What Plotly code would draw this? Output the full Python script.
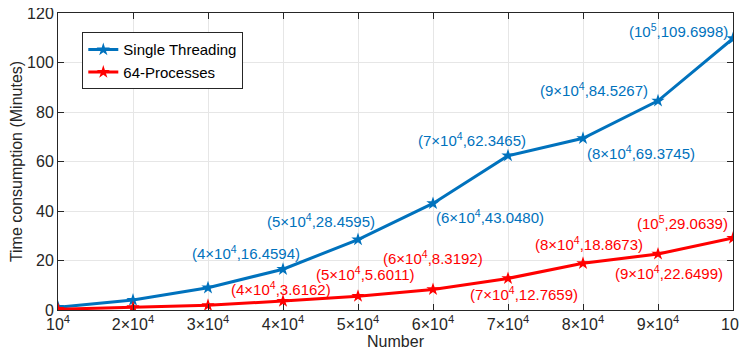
import plotly.graph_objects as go

numbers = [10000, 20000, 30000, 40000, 50000, 60000, 70000, 80000, 90000, 100000]
tick_text = ['10<sup>4</sup>', '2×10<sup>4</sup>', '3×10<sup>4</sup>', '4×10<sup>4</sup>', '5×10<sup>4</sup>',
             '6×10<sup>4</sup>', '7×10<sup>4</sup>', '8×10<sup>4</sup>', '9×10<sup>4</sup>', '10<sup>5</sup>']
single_threading = [1.1, 4.0, 9.0, 16.4594, 28.4595, 43.0480, 62.3465, 69.3745, 84.5267, 109.6998]
processes_64 = [0.3, 1.0, 1.9, 3.6162, 5.6011, 8.3192, 12.7659, 18.8673, 22.6499, 29.0639]

# label offsets (px) for the annotated points, index 3..9
blue_shift = [(-37, 17), (-37, 19), (57, -13), (-36, 16), (58, -14), (-64, 11), (-55, 8)]
red_shift = [(-2, 13), (7, 23), (0, 32), (16, -15), (6, 20), (11, -19), (-51, 16)]

BLUE = '#0072BD'
RED = '#FF0000'
FONT = 'Liberation Sans, Arial, sans-serif'

fig = go.Figure()
fig.add_trace(go.Scatter(name='Single Threading', x=numbers, y=single_threading, mode='lines+markers',
                         line=dict(color=BLUE, width=3), marker=dict(symbol='star', size=10, color=BLUE)))
fig.add_trace(go.Scatter(name='64-Processes', x=numbers, y=processes_64, mode='lines+markers',
                         line=dict(color=RED, width=3), marker=dict(symbol='star', size=10, color=RED)))

annotations = []
for series, shifts, color in [(single_threading, blue_shift, BLUE), (processes_64, red_shift, RED)]:
    for k, (dx, dy) in enumerate(shifts):
        i = k + 3
        annotations.append(dict(x=numbers[i], y=series[i], text='(%s,%.4f)' % (tick_text[i], series[i]),
                                showarrow=False, xshift=dx, yshift=dy, font=dict(color=color, size=15, family=FONT)))

axis_common = dict(showline=True, linecolor='#262626', linewidth=1, mirror='ticks', ticks='inside',
                   ticklen=6, tickcolor='#262626', showgrid=True, gridcolor='#E6E6E6', zeroline=False,
                   automargin=False, ticklabeloverflow='allow',
                   tickfont=dict(size=16, color='#262626', family=FONT))

# page body has an 8px margin, so the figure is sized to fit the window
fig.update_layout(
    width=739, height=348,
    margin=dict(l=50, r=14, t=5, b=46),
    plot_bgcolor='white', paper_bgcolor='white',
    font=dict(family=FONT, size=15, color='#262626'),
    xaxis=dict(range=[10000, 100000], tickvals=numbers, ticktext=tick_text,
               title=dict(text='Number', standoff=3, font=dict(size=16)), **axis_common),
    yaxis=dict(range=[0, 120], dtick=20,
               title=dict(text='Time consumption (Minutes)', standoff=8, font=dict(size=16)), **axis_common),
    legend=dict(x=0.036, y=0.935, xanchor='left', yanchor='top', bgcolor='white', bordercolor='#262626',
                borderwidth=1, font=dict(size=15, color='black'), tracegroupgap=0, itemwidth=30),
    annotations=annotations,
    showlegend=True,
)

fig.write_html("out.html")
